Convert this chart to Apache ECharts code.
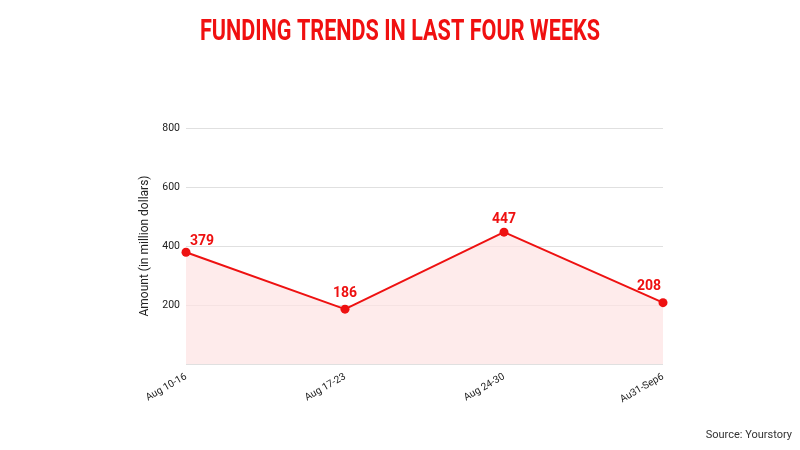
<!DOCTYPE html>
<html><head><meta charset="utf-8">
<script src="https://cdn.jsdelivr.net/npm/echarts@6/dist/echarts.min.js"></script>
<style>html,body{margin:0;padding:0;background:#fff}#c{width:800px;height:450px}</style>
</head><body><div id="c"></div>
<script>
const categories = ['Aug 10-16', 'Aug 17-23', 'Aug 24-30', 'Au31-Sep6'];
const values = [379, 186, 447, 208];
const yTicks = [0, 200, 400, 600, 800];
const titleText = 'FUNDING TRENDS IN LAST FOUR WEEKS';
const yName = 'Amount (in million dollars)';
const sourceText = 'Source: Yourstory';

const chart = echarts.init(document.getElementById('c'), null, {renderer: 'canvas'});
const labelOffsets = [[16, 2], [0, -3], [0, 0], [-14, -4]];
chart.setOption({
  animation: false,
  backgroundColor: '#fff',
  graphic: [{
    type: 'text', x: 400, y: 32, scaleX: 0.72, originX: 0, originY: 0,
    style: {text: titleText, font: 'bold 30px Roboto, sans-serif', fill: '#f01010', textAlign: 'center', textVerticalAlign: 'middle'}
  }, {
    type: 'text', right: 8, top: 430,
    style: {text: sourceText, font: '11px Roboto, sans-serif', fill: '#333'}
  }],
  grid: {left: 186, right: 137, top: 128, bottom: 86},
  xAxis: {
    type: 'category', data: categories, boundaryGap: false,
    axisLine: {show: false}, axisTick: {show: false},
    axisLabel: {rotate: 30, fontFamily: 'Roboto, sans-serif', fontSize: 10, color: '#222', margin: 12}
  },
  yAxis: {
    type: 'value', min: yTicks[0], max: yTicks[yTicks.length - 1], interval: 200,
    name: yName, nameLocation: 'middle', nameGap: 34,
    nameTextStyle: {fontFamily: 'Roboto, sans-serif', fontSize: 12, color: '#222'},
    axisLine: {show: false}, axisTick: {show: false},
    axisLabel: {fontFamily: 'Roboto, sans-serif', fontSize: 10.5, color: '#222', margin: 6,
      formatter: v => v === 0 ? '' : String(v)},
    splitLine: {lineStyle: {color: '#e0e0e0'}}
  },
  series: [{
    type: 'line', clip: true,
    data: values.map((v, i) => ({value: v, label: {offset: labelOffsets[i]}})),
    symbol: 'circle', symbolSize: 9,
    lineStyle: {color: '#ee1111', width: 2},
    itemStyle: {color: '#ee1111'},
    areaStyle: {color: '#fde2e2'},
    label: {show: true, position: 'top', fontFamily: 'Roboto, sans-serif', fontWeight: 'bold', fontSize: 14, color: '#ee1111', distance: 1}
  }]
});
</script></body></html>
